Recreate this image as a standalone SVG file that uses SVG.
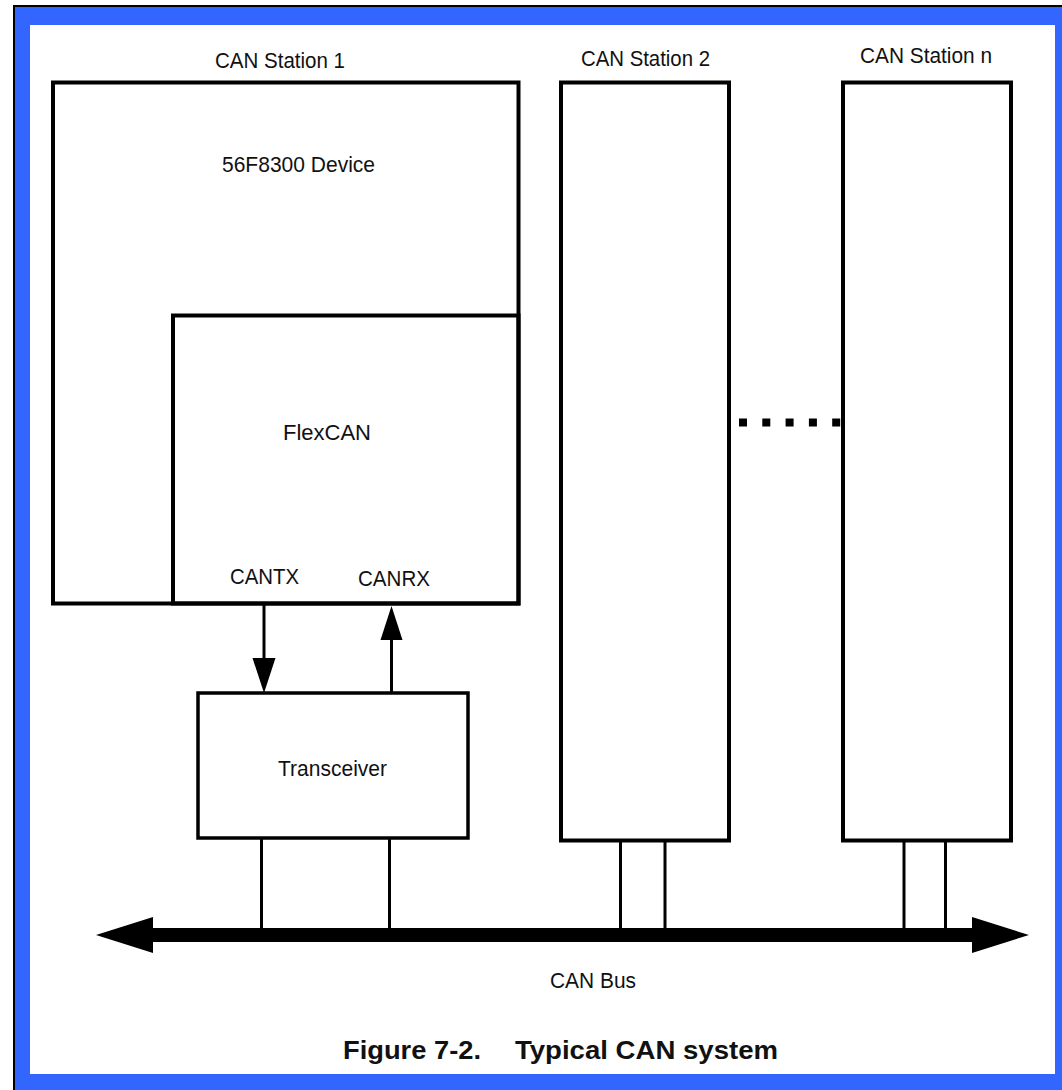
<svg xmlns="http://www.w3.org/2000/svg" width="1062" height="1090" viewBox="0 0 1062 1090">
  <style>
    .box { fill: none; stroke: #000; stroke-width: 4; }
    .wire { fill: none; stroke: #000; stroke-width: 3; }
    .lbl { font-family: "Liberation Sans", Arial, sans-serif; font-size: 22px; fill: #111; }
    .cap { font-family: "Liberation Sans", Arial, sans-serif; font-size: 26px; font-weight: bold; fill: #111; }
    .head { fill: #000; }
  </style>
  <g id="frame">
    <rect x="15" y="7" width="1047" height="1083" fill="#3366ff"/>
    <path d="M14,1090 V6 H1062" fill="none" stroke="#000" stroke-width="2"/>
    <rect x="30" y="25" width="1025" height="1049" fill="#fff"/>
  </g>
  <g id="station1">
    <rect class="box" x="53" y="82.5" width="465.5" height="521"/>
    <text class="lbl" x="215" y="68" textLength="130" lengthAdjust="spacingAndGlyphs">CAN Station 1</text>
    <text class="lbl" x="222" y="172" textLength="153" lengthAdjust="spacingAndGlyphs">56F8300 Device</text>
  </g>
  <g id="flexcan">
    <rect class="box" x="173" y="315.5" width="345.5" height="288"/>
    <text class="lbl" x="283" y="440" textLength="88" lengthAdjust="spacingAndGlyphs">FlexCAN</text>
    <text class="lbl" x="230" y="584" textLength="69" lengthAdjust="spacingAndGlyphs">CANTX</text>
    <text class="lbl" x="358" y="586" textLength="72" lengthAdjust="spacingAndGlyphs">CANRX</text>
  </g>
  <g id="transceiver">
    <rect class="box" x="198" y="693" width="270" height="145" style="stroke-width:3.5"/>
    <text class="lbl" x="278" y="775.5" textLength="109" lengthAdjust="spacingAndGlyphs">Transceiver</text>
  </g>
  <g id="station2">
    <rect class="box" x="561" y="82.5" width="168" height="758"/>
    <text class="lbl" x="581" y="66" textLength="129" lengthAdjust="spacingAndGlyphs">CAN Station 2</text>
  </g>
  <g id="stationn">
    <rect class="box" x="843" y="82.5" width="168" height="758"/>
    <text class="lbl" x="860" y="63" textLength="132" lengthAdjust="spacingAndGlyphs">CAN Station n</text>
  </g>
  <g id="canbus">
    <line x1="150" y1="935" x2="975" y2="935" stroke="#000" stroke-width="14"/>
    <polygon class="head" points="96,935 153,917 153,953"/>
    <polygon class="head" points="1029,935 972,917 972,953"/>
    <text class="lbl" x="550" y="988" textLength="86" lengthAdjust="spacingAndGlyphs">CAN Bus</text>
  </g>
  <g id="connectors">
    <line class="wire" x1="264" y1="605" x2="264" y2="660"/>
    <polygon class="head" points="252.5,658 275.5,658 264,693"/>
    <line class="wire" x1="391.5" y1="638" x2="391.5" y2="693"/>
    <polygon class="head" points="380.5,640 402.5,640 391.5,606"/>
    <line class="wire" x1="261.5" y1="838" x2="261.5" y2="930"/>
    <line class="wire" x1="389.5" y1="838" x2="389.5" y2="930"/>
    <line class="wire" x1="620.5" y1="840" x2="620.5" y2="930"/>
    <line class="wire" x1="665" y1="840" x2="665" y2="930"/>
    <line class="wire" x1="904" y1="840" x2="904" y2="930"/>
    <line class="wire" x1="945.5" y1="840" x2="945.5" y2="930"/>
    <line x1="739" y1="422.5" x2="843" y2="422.5" stroke="#000" stroke-width="8" stroke-dasharray="8 15.3"/>
  </g>
  <g id="caption">
    <text class="cap" x="343" y="1059" textLength="138" lengthAdjust="spacingAndGlyphs">Figure 7-2.</text>
    <text class="cap" x="515" y="1059" textLength="263" lengthAdjust="spacingAndGlyphs">Typical CAN system</text>
  </g>
</svg>
